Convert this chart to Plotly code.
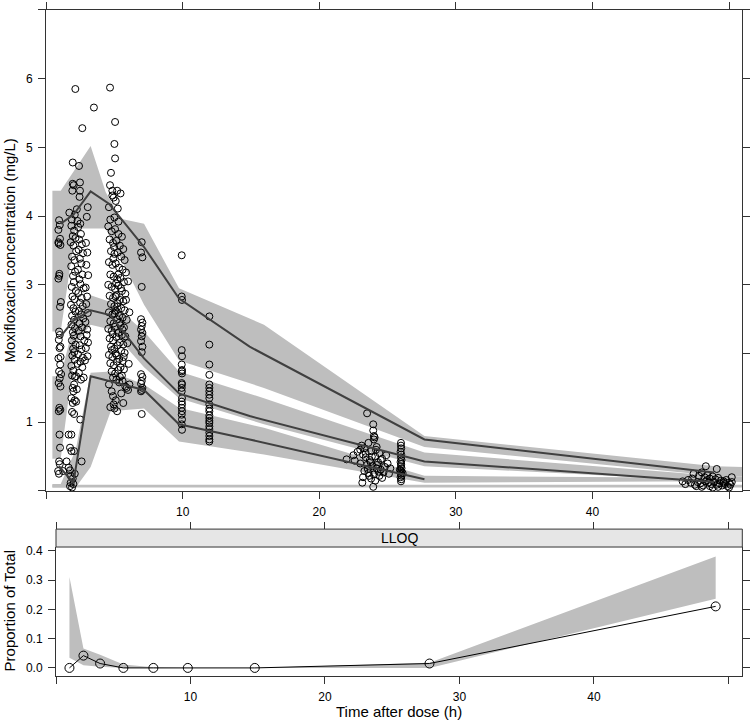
import plotly.graph_objects as go

# ---------------------------------------------------------------------------
# Observed concentrations (time h, conc mg/L), grouped by sampling window
# ---------------------------------------------------------------------------
obs_1h = [(0.95, 3.94), (1.00, 3.87), (0.90, 3.80), (1.02, 3.67), (0.92, 3.60), (1.05, 3.58),
          (0.97, 3.16), (0.90, 3.09), (1.02, 2.68), (0.95, 2.32), (1.00, 2.27), (0.93, 2.20),
          (1.05, 2.10), (0.98, 2.08), (0.90, 1.93), (1.03, 1.84), (0.95, 1.74), (1.00, 1.64),
          (0.92, 1.57), (1.05, 1.52), (0.97, 1.21), (0.93, 1.16), (1.04, 1.18), (0.98, 0.82),
          (1.02, 0.63), (0.95, 0.43), (1.00, 0.39), (0.88, 0.29), (1.10, 1.70), (0.96, 3.13),
          (1.08, 2.75), (0.90, 3.62), (1.06, 1.95), (0.94, 0.25)]

obs_2h = [(2.14, 5.85), (2.65, 5.28), (3.50, 5.58), (1.95, 4.78), (2.41, 4.73), (1.95, 4.47),
          (2.48, 4.49), (1.92, 4.37), (2.48, 4.37), (1.70, 4.05), (2.25, 4.10), (3.05, 4.13),
          (2.98, 3.99), (2.50, 3.89), (2.02, 4.45), (2.45, 4.28), (1.88, 3.95), (2.10, 4.02),
          (2.30, 3.93),
          (1.85, 3.86), (2.05, 3.79), (1.95, 3.71), (2.15, 3.68), (1.80, 3.62), (2.00, 3.57),
          (2.20, 3.49), (1.90, 3.41), (2.08, 3.36), (1.84, 3.27), (2.12, 3.19), (1.97, 3.13),
          (2.03, 3.04), (1.88, 2.97), (2.18, 2.91), (1.93, 2.83), (2.07, 2.79), (1.82, 2.71),
          (2.00, 2.66), (2.14, 2.61), (1.90, 2.55), (2.05, 2.49), (1.86, 2.42), (2.11, 2.37),
          (1.96, 2.31), (2.02, 2.26), (1.89, 2.19), (2.16, 2.13), (1.98, 2.07), (2.06, 2.02),
          (1.92, 1.97), (2.09, 1.91),
          (2.35, 3.84), (2.55, 3.74), (2.42, 3.66), (2.62, 3.59), (2.38, 3.51), (2.70, 3.46),
          (2.47, 3.38), (2.58, 3.31), (2.33, 3.22), (2.66, 3.15), (2.44, 3.08), (2.52, 3.01),
          (2.75, 2.95), (2.36, 2.88), (2.60, 2.81), (2.49, 2.74), (2.68, 2.69), (2.40, 2.62),
          (2.56, 2.57), (2.72, 2.51), (2.45, 2.44), (2.63, 2.38), (2.39, 2.33), (2.53, 2.25),
          (2.80, 2.19), (2.46, 2.12), (2.59, 2.06), (2.34, 1.99), (2.69, 1.94), (2.51, 1.88),
          (2.92, 3.61), (3.02, 3.47), (2.95, 3.29), (3.08, 3.14), (2.90, 2.96), (3.00, 2.83),
          (2.94, 2.72), (3.05, 2.59), (2.88, 2.46), (3.01, 2.35), (2.97, 2.27), (3.07, 2.16),
          (2.91, 2.08), (3.03, 1.96),
          (1.85, 1.82), (2.00, 1.75), (1.90, 1.68), (2.10, 1.66), (2.20, 1.67), (2.05, 1.55),
          (1.95, 1.50), (2.00, 1.45), (1.85, 1.35), (2.10, 1.32), (1.95, 1.28), (2.20, 1.30),
          (1.90, 1.15), (2.05, 1.12), (2.50, 1.04), (1.65, 0.82), (1.85, 0.82), (1.75, 0.63),
          (1.85, 0.58), (2.05, 0.58), (1.50, 0.43), (2.60, 0.43), (1.25, 0.29), (1.65, 0.34),
          (1.75, 0.30), (1.80, 0.22), (1.95, 0.18), (1.80, 0.12), (1.75, 0.07), (1.90, 0.05),
          (2.00, 0.10), (2.10, 0.25),
          (2.30, 1.85), (2.65, 1.80), (2.40, 1.72), (2.85, 1.90), (2.55, 1.62), (2.25, 1.48),
          (2.75, 1.65)]

obs_5h = [(4.68, 5.87), (5.05, 5.37), (5.00, 5.05), (5.05, 4.84), (4.75, 4.63), (4.68, 4.45),
          (4.85, 4.37), (5.20, 4.37), (5.45, 4.33), (4.95, 4.27), (5.25, 4.11), (4.60, 4.13),
          (5.00, 3.98), (4.70, 3.95), (5.30, 3.92), (4.85, 4.30), (5.10, 4.22),
          (4.55, 3.85), (4.80, 3.78), (5.05, 3.81), (5.30, 3.74), (5.55, 3.70), (4.65, 3.66),
          (4.90, 3.61), (5.15, 3.64), (5.40, 3.57), (5.65, 3.52), (4.75, 3.49), (5.00, 3.45),
          (5.25, 3.47), (5.50, 3.41), (5.75, 3.36), (4.60, 3.33), (4.85, 3.29), (5.10, 3.31),
          (5.35, 3.25), (5.60, 3.22), (5.85, 3.18), (4.70, 3.15), (4.95, 3.12), (5.20, 3.08),
          (5.45, 3.10), (5.70, 3.04), (4.55, 3.00), (4.80, 2.97), (5.05, 2.94), (5.30, 2.99),
          (5.55, 2.91), (5.80, 2.87), (4.65, 2.84), (4.90, 2.81), (5.15, 2.85), (5.40, 2.78),
          (5.65, 2.76), (4.75, 2.72), (5.00, 2.69), (5.25, 2.73), (5.50, 2.66), (5.75, 2.63),
          (4.60, 2.60), (4.85, 2.57), (5.10, 2.62), (5.35, 2.55), (5.60, 2.52), (5.90, 2.49),
          (4.70, 2.47), (4.95, 2.44), (5.20, 2.50), (5.45, 2.41), (5.70, 2.38), (4.55, 2.36),
          (4.80, 2.33), (5.05, 2.39), (5.30, 2.30), (5.55, 2.27), (5.80, 2.25), (4.65, 2.22),
          (4.90, 2.19), (5.15, 2.24), (5.40, 2.16), (5.65, 2.13), (4.75, 2.10), (5.00, 2.07),
          (5.25, 2.12), (5.50, 2.04), (5.75, 2.01), (4.60, 1.98), (4.85, 1.95), (5.10, 2.00),
          (5.35, 1.92), (5.60, 1.89), (4.70, 1.86), (4.95, 1.83), (5.20, 1.88), (5.45, 1.80),
          (5.70, 1.77), (4.80, 1.74), (5.05, 1.71), (5.30, 1.76), (5.55, 1.68), (4.90, 1.65),
          (5.15, 1.62), (5.40, 1.66),
          (4.98, 3.55), (5.12, 3.02), (5.02, 2.58), (4.88, 2.28), (5.18, 1.97), (5.08, 2.83),
          (4.92, 3.38), (5.22, 2.68), (5.28, 3.15), (4.82, 2.05), (5.38, 2.45), (5.48, 2.95),
          (5.58, 2.35), (5.68, 1.95), (5.95, 2.15), (6.05, 1.85), (6.10, 2.60), (5.85, 2.78),
          (6.00, 3.05),
          (4.60, 1.55), (4.80, 1.45), (4.90, 1.38), (5.10, 1.32), (4.95, 1.26), (4.70, 1.22),
          (5.20, 1.16), (5.00, 1.20), (5.65, 1.28), (5.90, 1.50), (6.10, 1.55), (5.80, 1.52),
          (6.00, 1.47), (5.50, 1.42), (5.35, 1.58), (5.60, 1.60)]

obs_7h = [(7.00, 3.62), (6.95, 3.47), (7.05, 3.40), (7.00, 2.97), (6.95, 2.50), (7.05, 2.45),
          (7.00, 2.40), (6.95, 2.35), (7.05, 2.30), (7.00, 2.25), (6.95, 2.18), (7.05, 2.10),
          (7.00, 2.02), (6.95, 1.70), (7.05, 1.66), (7.00, 1.60), (6.95, 1.56), (7.05, 1.50),
          (7.00, 1.47), (6.95, 1.45), (7.00, 1.12)]

obs_10h = [(9.93, 3.43), (9.93, 2.83), (9.95, 2.78), (9.93, 2.05), (9.95, 1.96), (9.93, 1.84),
           (9.95, 1.76), (9.93, 1.74), (9.95, 1.71), (9.93, 1.57), (9.95, 1.55), (9.93, 1.45),
           (9.95, 1.35), (9.93, 1.30), (9.95, 1.26), (9.93, 1.21), (9.95, 1.16), (9.93, 1.11),
           (9.95, 1.04), (9.93, 0.97), (9.95, 0.89), (9.93, 1.50)]

obs_12h = [(11.95, 2.54), (11.95, 2.13), (11.95, 1.84), (11.95, 1.69), (11.95, 1.55),
           (11.95, 1.50), (11.95, 1.40), (11.95, 1.35), (11.95, 1.26), (11.95, 1.16),
           (11.95, 1.06), (11.95, 0.99), (11.95, 0.94), (11.95, 0.90), (11.95, 0.85),
           (11.95, 0.80), (11.95, 0.75), (11.95, 0.72), (11.95, 1.45), (11.95, 1.20),
           (11.95, 1.10), (11.95, 1.02)]

obs_24h = [(23.50, 1.13), (23.95, 0.97), (23.95, 0.88), (24.00, 0.75), (22.00, 0.46), (22.50, 0.52),
           (23.15, 0.12), (23.95, 0.06), (23.10, 0.66), (23.30, 0.62), (23.60, 0.70), (23.80, 0.58),
           (24.20, 0.64), (24.40, 0.55), (23.20, 0.53), (23.40, 0.49), (23.70, 0.45), (24.10, 0.50),
           (24.30, 0.42), (24.60, 0.47), (23.00, 0.40), (23.50, 0.38), (23.90, 0.36), (24.20, 0.33),
           (24.50, 0.31), (24.80, 0.35), (23.30, 0.29), (23.60, 0.26), (24.00, 0.24), (24.40, 0.22),
           (24.70, 0.27), (23.20, 0.20), (23.80, 0.18), (24.10, 0.15), (24.60, 0.19), (25.00, 0.40),
           (25.20, 0.33), (24.90, 0.52), (22.80, 0.57), (23.00, 0.60), (24.00, 0.80), (24.05, 0.78),
           (23.40, 0.55), (23.75, 0.42), (24.25, 0.38), (23.55, 0.32), (24.35, 0.28), (23.85, 0.50),
           (24.15, 0.60), (23.65, 0.22), (24.50, 0.45), (22.60, 0.44), (25.10, 0.25)]

obs_26h = [(25.98, 0.70), (25.98, 0.66), (26.00, 0.62), (25.95, 0.57), (26.00, 0.53), (25.98, 0.49),
           (26.02, 0.45), (25.95, 0.42), (26.00, 0.39), (25.98, 0.36), (26.02, 0.33), (25.95, 0.30),
           (26.00, 0.28), (25.98, 0.25), (26.02, 0.22), (25.95, 0.20), (26.00, 0.17), (25.98, 0.14),
           (26.10, 0.26), (25.90, 0.31)]

obs_48h = [(48.3, 0.36), (49.1, 0.32), (47.4, 0.25), (47.8, 0.22), (48.0, 0.27), (48.2, 0.20),
           (48.4, 0.23), (48.6, 0.18), (48.8, 0.21), (49.0, 0.17), (49.2, 0.19), (49.4, 0.15),
           (49.6, 0.14), (49.8, 0.16), (50.0, 0.12), (50.2, 0.20), (47.0, 0.16), (47.2, 0.12),
           (46.6, 0.14), (46.8, 0.10), (47.5, 0.09), (47.7, 0.13), (47.9, 0.11), (48.1, 0.08),
           (48.3, 0.14), (48.5, 0.12), (48.7, 0.10), (48.9, 0.13), (49.1, 0.09), (49.3, 0.11),
           (49.5, 0.08), (49.7, 0.10), (49.9, 0.07), (50.1, 0.09), (50.2, 0.13), (48.0, 0.06),
           (48.6, 0.07), (49.2, 0.06), (47.3, 0.18), (48.4, 0.16), (49.6, 0.12), (50.0, 0.05),
           (48.8, 0.05), (47.6, 0.07)]

# ---------------------------------------------------------------------------
# Observed percentile lines and simulated CI bands (read off the figure)
# ---------------------------------------------------------------------------
p95_time = [1.07, 2.0, 3.26, 4.6, 7.17, 9.73, 14.9, 27.7, 48.9]
obs_p95 = [3.89, 4.02, 4.36, 4.18, 3.55, 2.80, 2.10, 0.75, 0.27]
p50_time = [1.07, 2.0, 3.26, 4.7, 7.17, 9.73, 14.9, 27.7, 48.9]
obs_p50 = [2.25, 2.48, 2.63, 2.56, 1.93, 1.42, 1.09, 0.43, 0.13]
p05_time = [0.94, 2.0, 3.26, 4.6, 7.17, 9.73, 14.9, 27.7]
obs_p05 = [0.36, 0.12, 1.67, 1.60, 1.47, 0.97, 0.75, 0.17]

ci95_hi_t = [0.46, 1.07, 3.26, 4.36, 5.46, 7.17, 9.73, 15.95, 27.7, 49.0, 51.0]
ci95_hi = [4.37, 4.37, 5.02, 4.35, 3.96, 3.89, 2.95, 2.42, 0.80, 0.36, 0.35]
ci95_lo_t = [0.46, 1.07, 2.17, 4.36, 7.17, 9.73, 15.95, 27.7, 49.0, 51.0]
ci95_lo = [2.32, 2.32, 3.82, 3.82, 2.71, 1.90, 1.50, 0.64, 0.22, 0.21]

ci50_t = [0.46, 1.07, 2.17, 3.26, 4.73, 7.17, 9.73, 15.95, 27.7, 49.0, 51.0]
ci50_hi = [1.67, 1.67, 2.55, 2.85, 2.75, 2.32, 1.74, 1.35, 0.56, 0.22, 0.21]
ci50_lo = [0.47, 0.47, 2.15, 2.42, 2.35, 1.80, 1.35, 0.97, 0.36, 0.14, 0.13]

ci05_t = [0.46, 1.07, 2.17, 3.26, 4.73, 7.17, 9.73, 15.95, 27.7, 49.0, 51.0]
ci05_hi = [0.10, 0.10, 0.60, 1.72, 1.74, 1.55, 1.21, 0.92, 0.22, 0.19, 0.19]
ci05_lo = [0.05, 0.05, 0.05, 0.35, 1.16, 1.20, 0.72, 0.53, 0.12, 0.14, 0.14]

lloq_strip_t = [0.46, 51.0]
lloq_strip_lo = [0.05, 0.05]
lloq_strip_hi = [0.09, 0.09]

# LLOQ panel
lloq_time = [1.0, 2.04, 3.28, 5.01, 7.24, 9.8, 14.78, 27.77, 49.05]
lloq_obs = [0.0, 0.042, 0.015, 0.0, 0.0, 0.0, 0.0, 0.015, 0.21]
lloq_hi = [0.31, 0.066, 0.045, 0.012, 0.002, 0.0, 0.0, 0.018, 0.38]
lloq_lo = [0.035, 0.009, 0.004, 0.0, 0.0, 0.0, 0.0, 0.0, 0.236]

x_ticks = [0, 10, 20, 30, 40, 50]
x_ticktext = ["", "10", "20", "30", "40", ""]
y_ticks = [0, 1, 2, 3, 4, 5, 6, 7]
y_ticktext = ["", "1", "2", "3", "4", "5", "6", ""]
p_ticks = [0.0, 0.1, 0.2, 0.3, 0.4]
p_ticktext = ["0.0", "0.1", "0.2", "0.3", "0.4"]

BAND = "rgb(190,190,190)"
LINE = "rgb(64,64,64)"
AXC = "#333333"
FONT = "Liberation Sans, Arial, sans-serif"

W, H = 750, 722
top_dom_x = [46.1 / W, 742.3 / W]
top_dom_y = [1 - 490 / H, 1 - 7 / H]
bot_dom_x = [56.0 / W, 742.3 / W]
bot_dom_y = [1 - 675.7 / H, 1 - 546.3 / H]
strip_top = 1 - 528.3 / H

fig = go.Figure()


def add_band(t_hi, hi, t_lo, lo, xa="x", ya="y"):
    fig.add_trace(go.Scatter(
        x=list(t_hi) + list(t_lo)[::-1],
        y=list(hi) + list(lo)[::-1],
        fill="toself", fillcolor=BAND, mode="lines", line=dict(width=0),
        hoverinfo="skip", showlegend=False, xaxis=xa, yaxis=ya,
    ))


add_band(ci95_hi_t, ci95_hi, ci95_lo_t, ci95_lo)
add_band(ci50_t, ci50_hi, ci50_t, ci50_lo)
add_band(ci05_t, ci05_hi, ci05_t, ci05_lo)
add_band(lloq_strip_t, lloq_strip_hi, lloq_strip_t, lloq_strip_lo)

all_obs = obs_1h + obs_2h + obs_5h + obs_7h + obs_10h + obs_12h + obs_24h + obs_26h + obs_48h
fig.add_trace(go.Scatter(
    x=[p[0] for p in all_obs], y=[p[1] for p in all_obs],
    mode="markers",
    marker=dict(symbol="circle-open", size=7, color="black", line=dict(width=1)),
    showlegend=False,
))

for t, v in [(p95_time, obs_p95), (p50_time, obs_p50), (p05_time, obs_p05)]:
    fig.add_trace(go.Scatter(x=t, y=v, mode="lines", line=dict(color=LINE, width=2),
                             showlegend=False))

# LLOQ panel
add_band(lloq_time, lloq_hi, lloq_time, lloq_lo, "x2", "y2")
fig.add_trace(go.Scatter(
    x=lloq_time, y=lloq_obs, mode="lines+markers",
    line=dict(color="black", width=1),
    marker=dict(symbol="circle-open", size=9, color="black", line=dict(width=1)),
    showlegend=False, xaxis="x2", yaxis="y2",
))
# carrier for the tick row above the strip
fig.add_trace(go.Scatter(x=[None], y=[None], xaxis="x3", yaxis="y2", showlegend=False))

axis_common = dict(showgrid=False, zeroline=False, showline=True, linecolor=AXC, linewidth=1,
                   ticks="outside", ticklen=7, tickcolor=AXC, tickwidth=1,
                   tickfont=dict(family=FONT, size=12, color="black"), ticklabelstandoff=3)

fig.update_layout(
    width=W, height=H, margin=dict(l=0, r=0, t=0, b=0),
    paper_bgcolor="white", plot_bgcolor="white",
    font=dict(family=FONT, color="black"),
    xaxis=dict(axis_common, domain=top_dom_x, range=[0, 50.97], tickvals=x_ticks,
               ticktext=x_ticktext, mirror="ticks", anchor="y"),
    yaxis=dict(axis_common, domain=top_dom_y, range=[0, 7], tickvals=y_ticks,
               ticktext=y_ticktext, mirror="ticks", anchor="x"),
    xaxis2=dict(axis_common, domain=bot_dom_x, range=[0, 51.03], tickvals=x_ticks,
                ticktext=x_ticktext, anchor="y2"),
    yaxis2=dict(axis_common, domain=bot_dom_y, range=[-0.0272, 0.4126], tickvals=p_ticks,
                ticktext=p_ticktext, mirror="ticks", anchor="x2"),
    xaxis3=dict(axis_common, overlaying="x2", anchor="free", position=strip_top, side="top",
                range=[0, 51.03], tickvals=x_ticks, showticklabels=False, showline=False),
    shapes=[dict(type="rect", xref="paper", yref="paper",
                 x0=bot_dom_x[0], x1=bot_dom_x[1], y0=bot_dom_y[1], y1=strip_top,
                 fillcolor="#e6e6e6", line=dict(color=AXC, width=1), layer="above")],
    annotations=[
        dict(text="LLOQ", xref="paper", yref="paper", x=sum(bot_dom_x) / 2,
             y=(bot_dom_y[1] + strip_top) / 2, showarrow=False,
             font=dict(family=FONT, size=14), xanchor="center", yanchor="middle"),
        dict(text="Moxifloxacin concentration (mg/L)", xref="paper", yref="paper",
             x=9 / W, y=sum(top_dom_y) / 2, textangle=-90, showarrow=False,
             font=dict(family=FONT, size=15), xanchor="center", yanchor="middle"),
        dict(text="Proportion of Total", xref="paper", yref="paper",
             x=9 / W, y=sum(bot_dom_y) / 2, textangle=-90, showarrow=False,
             font=dict(family=FONT, size=15), xanchor="center", yanchor="middle"),
        dict(text="Time after dose (h)", xref="paper", yref="paper",
             x=sum(bot_dom_x) / 2, y=1 - 711 / H, showarrow=False,
             font=dict(family=FONT, size=15), xanchor="center", yanchor="middle"),
    ],
)

# the page body has a default 8px margin; drop it so the figure sits at the window origin
fig.write_html("out.html", config={"displayModeBar": False},
               post_script="document.body.style.margin = '0';")
